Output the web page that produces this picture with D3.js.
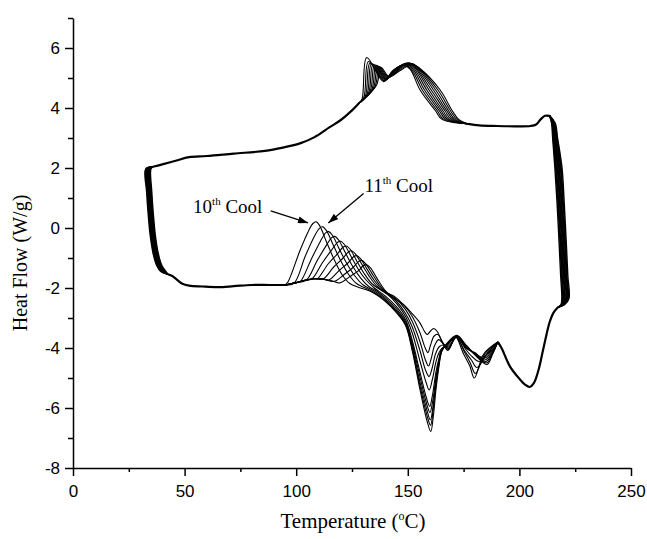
<!DOCTYPE html>
<html>
<head>
<meta charset="utf-8">
<script src="https://cdn.jsdelivr.net/npm/d3@7"></script>
<style>
  body { margin: 0; background: #fff; }
  svg { display: block; }
</style>
</head>
<body>
<svg id="chart" width="647" height="539"></svg>
<script>
// ---- data: temperature (°C), heat flow (W/g) ----
const xTicks = [0, 50, 100, 150, 200, 250];
const xMinor = [25, 75, 125, 175, 225];
const yTicks = [-8, -6, -4, -2, 0, 2, 4, 6];
const yMinor = [-7, -5, -3, -1, 1, 3, 5, 7];

// heating trace, where all runs lie on top of each other
const heatLow = [[35.8, 2.04], [40, 2.12], [46, 2.24], [52, 2.36], [60, 2.4], [72, 2.48], [86, 2.57], [94, 2.68], [102, 2.83], [108, 3.02], [115, 3.36], [120, 3.6], [125, 3.92], [128, 4.15]];
const heatFlat = [[177, 3.47], [182, 3.42], [190, 3.4], [198, 3.39], [205, 3.4], [207.5, 3.45], [209.5, 3.62], [211.5, 3.74], [213.5, 3.74]];

// melting region of the heating trace, one row per run (10th cool first)
const meltRuns = [
  [[129.5, 4.3], [131.6, 5.68], [139.2, 4.88], [143, 5.22], [148, 5.42], [151, 5.3], [155.5, 4.6], [162.5, 3.9], [165.3, 3.62]],
  [[130.3, 4.35], [132.4, 5.55], [139.5, 4.9], [143.4, 5.25], [148.4, 5.44], [151.4, 5.32], [156.5, 4.6], [163.3, 3.9], [166.1, 3.62]],
  [[131, 4.4], [133.1, 5.5], [139.7, 4.92], [143.9, 5.27], [148.9, 5.46], [151.9, 5.34], [157.5, 4.6], [164.2, 3.9], [167, 3.62]],
  [[131.7, 4.45], [133.8, 5.48], [140, 4.94], [144.3, 5.29], [149.3, 5.48], [152.3, 5.36], [158.5, 4.6], [165, 3.9], [167.8, 3.62]],
  [[132.4, 4.5], [134.5, 5.46], [140.3, 4.96], [144.8, 5.31], [149.8, 5.5], [152.8, 5.38], [159.5, 4.6], [165.8, 3.9], [168.6, 3.62]],
  [[133.1, 4.55], [135.2, 5.44], [140.5, 4.98], [145.2, 5.31], [150.2, 5.5], [153.2, 5.38], [160.5, 4.6], [166.7, 3.9], [169.5, 3.62]],
  [[133.8, 4.6], [135.9, 5.42], [140.8, 5.0], [145.7, 5.31], [150.7, 5.5], [153.7, 5.38], [161.5, 4.6], [167.5, 3.9], [170.3, 3.62]],
  [[134.5, 4.65], [136.6, 5.4], [141.1, 5.01], [146.1, 5.3], [151.1, 5.49], [154.1, 5.37], [162.5, 4.6], [168.3, 3.9], [171.1, 3.62]],
  [[135.2, 4.7], [137.3, 5.38], [141.3, 5.03], [146.6, 5.29], [151.6, 5.48], [154.6, 5.36], [163.5, 4.6], [169.2, 3.9], [172, 3.62]],
  [[135.9, 4.75], [138, 5.35], [141.6, 5.05], [147, 5.27], [152, 5.46], [155, 5.34], [164.5, 4.6], [170, 3.9], [172.8, 3.62]]
];

// turn-around at the top temperature
const hotTop = [213.5, 3.74];
const hotFoot = [217.3, -2.64];
const hotEdgeHF = [3.5, 3.0, 2.0, 0.8, -0.5, -1.6, -2.35, -2.56];
const hotEdgeT = [
  [214.4, 214.9, 215.9, 216.9, 217.8, 218.5, 219.0, 218.6],
  [214.6, 215.1, 216.3, 217.3, 218.2, 218.9, 219.4, 218.8],
  [214.8, 215.4, 216.6, 217.6, 218.5, 219.2, 219.7, 219.0],
  [214.9, 215.6, 217.0, 218.0, 218.9, 219.6, 220.1, 219.1],
  [215.1, 215.9, 217.3, 218.3, 219.2, 219.9, 220.4, 219.3],
  [215.3, 216.1, 217.7, 218.7, 219.6, 220.3, 220.8, 219.5],
  [215.5, 216.4, 218.0, 219.0, 219.9, 220.6, 221.1, 219.7],
  [215.6, 216.6, 218.4, 219.4, 220.3, 221.0, 221.5, 219.8],
  [215.8, 216.9, 218.7, 219.7, 220.6, 221.3, 221.8, 220.0],
  [216.0, 217.1, 219.1, 220.1, 221.0, 221.7, 222.2, 220.2]
];

// cooling trace, shared parts
const coolHigh = [[190.3, -3.8], [192, -4.0], [195.8, -4.62], [200.3, -5.05], [202.5, -5.22], [204.6, -5.3], [206.4, -5.18], [208.5, -4.75], [210.5, -4.1], [212, -3.6], [213.5, -3.15], [215.3, -2.82], [217.3, -2.64]];
const coolLow = [[42.5, -1.54], [44.5, -1.6], [46.5, -1.72], [49, -1.86], [52, -1.92], [58, -1.95], [65, -1.97], [72, -1.94], [80, -1.9], [88, -1.9], [95, -1.9]];

// cooling trace between 95 and 190 °C, one row per run (10th cool first)
const coolRuns = [
  [[96.3, -1.8], [101.7, -0.75], [105.3, -0.13], [107.5, 0.15], [108.9, 0.21], [110.5, 0.08], [113.5, -0.45], [117, -1.05], [120.5, -1.55], [124, -1.85], [128, -1.98], [133, -2.1], [140, -2.45], [145, -2.83], [149, -3.25], [152, -4.1], [155.5, -5.4], [158.5, -6.4], [160.3, -6.78], [161.4, -6.3], [162.6, -5.4], [163.8, -4.7], [165.3, -4.1], [167.8, -3.82], [172, -3.58], [176, -3.9], [181, -4.3], [185.5, -4.55], [188, -4.2]],
  [[99, -1.84], [104, -0.95], [108, -0.3], [110.4, -0.01], [111.8, 0.04], [113.5, -0.08], [116.5, -0.55], [120, -1.1], [123.5, -1.55], [127, -1.85], [131, -2.0], [135, -2.15], [140, -2.42], [145, -2.8], [149, -3.22], [152, -4.02], [155.5, -5.28], [158.5, -6.22], [160.2, -6.58], [161.3, -6.1], [162.6, -5.25], [163.8, -4.62], [165.3, -4.08], [167.8, -3.84], [172, -3.6], [176, -3.9], [181, -4.28], [185.3, -4.5], [188, -4.18]],
  [[100, -1.82], [101.8, -1.79], [106.7, -1.05], [110.8, -0.45], [113.2, -0.16], [114.6, -0.12], [116.3, -0.25], [119.3, -0.7], [122.8, -1.2], [126.3, -1.6], [130, -1.9], [135, -2.1], [140, -2.38], [145, -2.76], [149, -3.18], [152, -3.95], [155.5, -5.15], [158.5, -6.05], [160.1, -6.4], [161.3, -5.95], [162.6, -5.12], [163.8, -4.55], [165.3, -4.06], [167.8, -3.86], [172, -3.6], [176, -3.92], [181, -4.26], [185, -4.45], [188, -4.16]],
  [[100, -1.82], [104.5, -1.74], [109.3, -1.1], [113.5, -0.58], [115.9, -0.32], [117.3, -0.28], [119, -0.4], [122, -0.82], [125.5, -1.3], [129, -1.68], [132.5, -1.95], [136, -2.1], [140, -2.33], [145, -2.7], [149, -3.12], [152, -3.85], [155.5, -4.98], [158.4, -5.85], [159.9, -6.15], [161.2, -5.75], [162.6, -4.98], [163.8, -4.48], [165.3, -4.04], [167.8, -3.88], [172, -3.6], [176, -3.95], [181, -4.25], [184.5, -4.4], [187.8, -4.15]],
  [[100, -1.82], [104, -1.74], [107, -1.7], [111.8, -1.15], [116, -0.72], [118.5, -0.48], [119.9, -0.44], [121.6, -0.55], [124.6, -0.95], [128, -1.4], [131.5, -1.75], [135, -2.0], [140, -2.27], [145, -2.63], [149, -3.05], [152, -3.75], [155.5, -4.82], [158.3, -5.65], [159.8, -5.95], [161.1, -5.55], [162.5, -4.85], [163.8, -4.4], [165.3, -4.02], [167.8, -3.9], [172, -3.6], [176, -3.97], [180.5, -4.2], [184, -4.35], [187.6, -4.12]],
  [[100, -1.82], [104, -1.74], [108, -1.69], [109.5, -1.69], [114.3, -1.2], [118.5, -0.86], [121, -0.64], [122.4, -0.6], [124.1, -0.7], [127, -1.08], [130.3, -1.5], [133.8, -1.85], [137.5, -2.05], [141, -2.22], [145, -2.52], [149, -2.95], [152, -3.5], [155.5, -4.45], [158.2, -5.15], [159.6, -5.4], [161, -5.05], [162.5, -4.5], [164, -4.15], [165.8, -3.98], [168.3, -3.93], [172, -3.62], [176, -4.0], [180, -4.15], [183, -4.3], [187.3, -4.1]],
  [[100, -1.82], [104, -1.74], [108, -1.69], [112, -1.7], [116.8, -1.3], [121, -1.0], [123.4, -0.8], [124.8, -0.76], [126.5, -0.86], [129.5, -1.22], [132.8, -1.62], [136.3, -1.95], [140, -2.15], [145, -2.45], [149, -2.85], [152, -3.3], [155.5, -4.1], [158, -4.75], [159.5, -4.95], [160.8, -4.7], [162.4, -4.2], [164.2, -3.95], [166, -3.9], [168.5, -3.97], [172, -3.62], [176, -4.05], [179, -4.3], [182, -4.45], [186.5, -4.1]],
  [[100, -1.82], [104, -1.74], [108, -1.69], [112, -1.7], [114.5, -1.74], [119.2, -1.42], [123.4, -1.15], [125.7, -0.96], [127.1, -0.92], [128.8, -1.02], [131.8, -1.38], [135, -1.75], [138.5, -2.05], [142, -2.22], [145, -2.38], [149, -2.72], [152, -3.12], [155.5, -3.8], [157.9, -4.4], [159.3, -4.6], [160.5, -4.35], [162, -3.92], [163.8, -3.72], [165.8, -3.85], [168.3, -4.02], [171.5, -3.62], [175.5, -4.1], [178.5, -4.4], [181, -4.65], [185.5, -4.2]],
  [[100, -1.82], [104, -1.74], [108, -1.69], [112, -1.7], [117, -1.78], [121.5, -1.55], [125.7, -1.3], [127.9, -1.12], [129.3, -1.08], [131, -1.18], [134, -1.52], [137.3, -1.9], [140.5, -2.15], [144, -2.28], [148, -2.55], [152, -2.95], [155.5, -3.5], [157.8, -4.0], [159, -4.15], [160.2, -3.9], [161.8, -3.6], [163.5, -3.55], [165.7, -3.82], [168.2, -4.05], [171.5, -3.62], [175.5, -4.15], [178, -4.5], [180.3, -4.85], [184.5, -4.2]],
  [[100, -1.82], [104, -1.74], [108, -1.69], [112, -1.7], [116, -1.76], [119.5, -1.83], [124, -1.62], [128, -1.42], [130, -1.26], [131.4, -1.22], [133.2, -1.32], [136.2, -1.68], [139.5, -2.05], [142.5, -2.28], [145, -2.4], [148, -2.55], [151.5, -2.82], [155.5, -3.17], [157.5, -3.45], [158.7, -3.55], [160, -3.45], [161.6, -3.35], [163.2, -3.45], [165.5, -3.82], [168, -4.08], [171.3, -3.62], [175, -4.2], [177.8, -4.6], [179.8, -5.0], [184, -4.2]]
];

// turn-around at the low temperature
const coldEdgeHF = [1.97, 1.2, 0.45, -0.25, -0.85, -1.25, -1.45];
const coldEdgeT = [
  [32.6, 33.0, 33.7, 34.6, 35.9, 37.5, 39.3],
  [32.9, 33.3, 34.0, 34.9, 36.2, 37.8, 39.6],
  [33.1, 33.5, 34.2, 35.1, 36.4, 38.0, 39.8],
  [33.4, 33.8, 34.5, 35.4, 36.7, 38.3, 40.1],
  [33.6, 34.0, 34.7, 35.6, 36.9, 38.5, 40.3],
  [33.9, 34.3, 35.0, 35.9, 37.2, 38.8, 40.6],
  [34.1, 34.5, 35.2, 36.1, 37.4, 39.0, 40.8],
  [34.4, 34.8, 35.5, 36.4, 37.7, 39.3, 41.1],
  [34.6, 35.0, 35.7, 36.6, 37.9, 39.5, 41.3],
  [34.9, 35.3, 36.0, 36.9, 38.2, 39.8, 41.6]
];

// ---- chart ----
const svg = d3.select('#chart');
const x = d3.scaleLinear().domain([0, 250]).range([73, 631]);
const y = d3.scaleLinear().domain([-8, 7]).range([468, 18]);

const serif = '"Liberation Serif", "Times New Roman", serif';
const sans = '"Liberation Sans", Arial, sans-serif';

const line = d3
  .line()
  .x(d => x(d[0]))
  .y(d => y(d[1]))
  .curve(d3.curveCatmullRom.alpha(0.5));

const traces = svg.append('g').attr('fill', 'none').attr('stroke', '#000');

// per-run pieces (thin)
meltRuns.forEach(run => {
  traces.append('path')
    .attr('d', line([heatLow[heatLow.length - 1]].concat(run, [heatFlat[0]])))
    .attr('stroke-width', 1.1);
});
hotEdgeT.forEach(ts => {
  let pts = ts.map((t, i) => [t, hotEdgeHF[i]]);
  traces.append('path')
    .attr('d', line([hotTop].concat(pts, [hotFoot])))
    .attr('stroke-width', 1.4);
});
coolRuns.forEach(run => {
  traces.append('path')
    .attr('d', line([coolLow[coolLow.length - 1]].concat(run, [coolHigh[0]])))
    .attr('stroke-width', 1.1);
});
coldEdgeT.forEach(ts => {
  let pts = ts.map((t, i) => [t, coldEdgeHF[i]]);
  traces.append('path')
    .attr('d', line([heatLow[0]].concat(pts, [coolLow[0]])))
    .attr('stroke-width', 1.4);
});

// shared pieces: all runs overlap, so they read as a heavier line
[heatLow, heatFlat, coolHigh, coolLow].forEach(seg => {
  traces.append('path')
    .attr('d', line(seg))
    .attr('stroke-width', 2.2)
    .attr('stroke-linejoin', 'round');
});

// axes (plain hyphen for negatives, like the original)
const fmt = d => String(d);

const xAxis = svg.append('g').attr('transform', `translate(0,${y(-8)})`);
xAxis.call(d3.axisBottom(x).tickValues(xTicks).tickFormat(fmt).tickSize(8).tickSizeOuter(0).tickPadding(9));
xAxis.append('g').call(d3.axisBottom(x).tickValues(xMinor).tickSize(4).tickFormat(''))
  .select('.domain').remove();

const yAxis = svg.append('g').attr('transform', `translate(${x(0)},0)`);
yAxis.call(d3.axisLeft(y).tickValues(yTicks).tickFormat(fmt).tickSize(8).tickSizeOuter(0).tickPadding(5));
yAxis.append('g').call(d3.axisLeft(y).tickValues(yMinor).tickSize(5).tickFormat(''))
  .select('.domain').remove();

svg.selectAll('.domain, .tick line').attr('stroke', '#000').attr('stroke-width', 1.5);
svg.selectAll('.tick text')
  .attr('fill', '#000')
  .style('font-family', sans)
  .style('font-size', '17px');

// axis titles
let xTitle = svg.append('text')
  .attr('x', 353)
  .attr('y', 528)
  .attr('text-anchor', 'middle')
  .style('font-family', serif)
  .style('font-size', '21px');
xTitle.append('tspan').text('Temperature (');
xTitle.append('tspan').text('o').attr('dy', -8).style('font-size', '12px');
xTitle.append('tspan').text('C)').attr('dy', 8);

svg.append('text')
  .attr('transform', 'translate(27,263) rotate(-90)')
  .attr('text-anchor', 'middle')
  .style('font-family', serif)
  .style('font-size', '20px')
  .text('Heat Flow (W/g)');

// annotations
svg.append('defs').append('marker')
  .attr('id', 'arrow')
  .attr('viewBox', '0 0 10 7')
  .attr('refX', 10)
  .attr('refY', 3.5)
  .attr('markerWidth', 11)
  .attr('markerHeight', 7)
  .attr('markerUnits', 'userSpaceOnUse')
  .attr('orient', 'auto')
  .append('path')
  .attr('d', 'M0,0 L10,3.5 L0,7 z')
  .attr('fill', '#000');

function note(label, tx, ty, ax1, ay1, ax2, ay2) {
  let t = svg.append('text')
    .attr('x', x(tx))
    .attr('y', y(ty))
    .style('font-family', serif)
    .style('font-size', '19px');
  t.append('tspan').text(label);
  t.append('tspan').text('th').attr('dy', -8).style('font-size', '11px');
  t.append('tspan').text(' Cool').attr('dy', 8);

  svg.append('line')
    .attr('x1', x(ax1)).attr('y1', y(ay1))
    .attr('x2', x(ax2)).attr('y2', y(ay2))
    .attr('stroke', '#000')
    .attr('stroke-width', 1.3)
    .attr('marker-end', 'url(#arrow)');
}

note('10', 53.8, 0.5, 88.6, 0.57, 105.3, 0.17);
note('11', 130.6, 1.2, 130.2, 1.15, 114.4, 0.17);
</script>
</body>
</html>
